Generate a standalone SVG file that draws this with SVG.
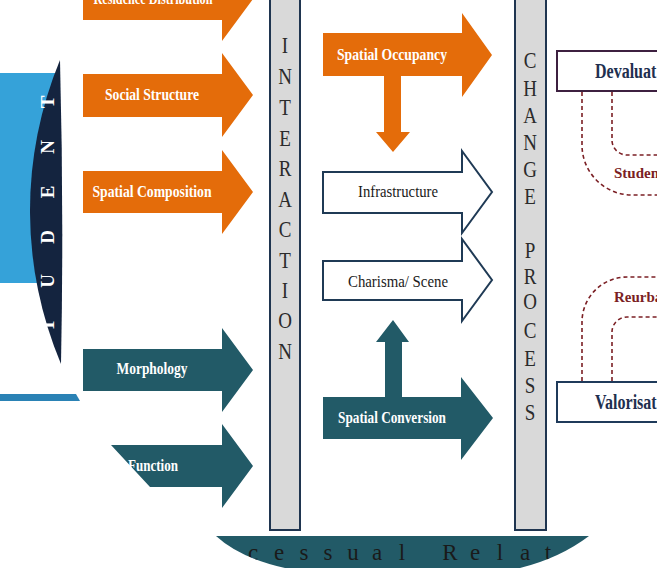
<svg xmlns="http://www.w3.org/2000/svg" width="657" height="568" viewBox="0 0 657 568">
<defs>
<style>
.or{fill:#E46C0A}
.tl{fill:#225A67}
.wa{fill:#fff;stroke:#1F3A55;stroke-width:2}
.bar{fill:#D9D9D9;stroke:#1F3550;stroke-width:2}
.lbl{font-family:"Liberation Serif","Times New Roman",serif;font-weight:bold;font-size:17px;fill:#fff;text-anchor:middle}
.lblk{font-family:"Liberation Serif","Times New Roman",serif;font-size:17px;fill:#1a1a1a;text-anchor:middle}
.vt{font-family:"Liberation Serif","Times New Roman",serif;font-size:19px;fill:#2b2b2b;text-anchor:middle}
.dash{fill:none;stroke:#7B1F24;stroke-width:1.6;stroke-dasharray:4 3}
.red{font-family:"Liberation Serif","Times New Roman",serif;font-weight:bold;font-size:15px;fill:#7B1F24}
.box{font-family:"Liberation Serif","Times New Roman",serif;font-weight:bold;font-size:20px;fill:#1F3050}
</style>
<clipPath id="bannerClip"><path d="M216,536 H589 Q560,558 520,568 H285 Q240,558 216,536 Z"/></clipPath>
</defs>
<rect width="657" height="568" fill="#fff"/>

<g id="student-circle">
<rect x="0" y="73" width="60" height="210" fill="#35A2D9"/>
<path d="M60,60 A394,394 0 0 0 61,364 Q64,212 60,60 Z" fill="#14243F"/>
<text transform="rotate(-90)" font-family="Liberation Serif, serif" font-weight="bold" font-size="19" fill="#fff" text-anchor="middle" y="54" x="-325 -281 -237 -192 -147 -102">TUDENT</text>
<polygon points="0,394 76,394 80,401 0,401" fill="#2A82B5"/>
</g>

<g id="residence-distribution">
<polygon class="or" points="83,-23 222,-23 222,-43 253,-1 222,41 222,20 83,20"/>
<text class="lbl" x="153" y="4" textLength="119" lengthAdjust="spacingAndGlyphs">Residence Distribution</text>
</g>
<g id="social-structure">
<polygon class="or" points="83,74 222,74 222,53 253,95 222,137 222,117 83,117"/>
<text class="lbl" x="152" y="100" textLength="94" lengthAdjust="spacingAndGlyphs">Social Structure</text>
</g>
<g id="spatial-composition">
<polygon class="or" points="83,171 222,171 222,150 253,192 222,234 222,213 83,213"/>
<text class="lbl" x="152" y="197" textLength="119" lengthAdjust="spacingAndGlyphs">Spatial Composition</text>
</g>
<g id="morphology">
<polygon class="tl" points="83,349 222,349 222,328 253,370 222,412 222,391 83,391"/>
<text class="lbl" x="152" y="374" textLength="71" lengthAdjust="spacingAndGlyphs">Morphology</text>
</g>
<g id="function">
<polygon class="tl" points="111,445 222,445 222,424 253,466 222,508 222,487 150,487"/>
<text class="lbl" x="128" y="471" textLength="50" lengthAdjust="spacingAndGlyphs" style="text-anchor:start">Function</text>
</g>

<g id="interaction">
<rect class="bar" x="270" y="-3" width="30" height="533"/>
<g transform="translate(285,0) scale(1,1.25)">
<text class="vt" x="0" y="42.3">I</text>
<text class="vt" x="0" y="67.1">N</text>
<text class="vt" x="0" y="91.9">T</text>
<text class="vt" x="0" y="116.7">E</text>
<text class="vt" x="0" y="140.7">R</text>
<text class="vt" x="0" y="165.5">A</text>
<text class="vt" x="0" y="189.5">C</text>
<text class="vt" x="0" y="214.3">T</text>
<text class="vt" x="0" y="238.3">I</text>
<text class="vt" x="0" y="262.3">O</text>
<text class="vt" x="0" y="287.1">N</text>
</g>
</g>

<g id="change-process">
<rect class="bar" x="515" y="-3" width="31" height="533"/>
<g transform="translate(530,0) scale(1,1.2)">
<text class="vt" x="0" y="56.3">C</text>
<text class="vt" x="0" y="79.6">H</text>
<text class="vt" x="0" y="102.1">A</text>
<text class="vt" x="0" y="124.6">N</text>
<text class="vt" x="0" y="147.9">G</text>
<text class="vt" x="0" y="169.6">E</text>
<text class="vt" x="0" y="215.4">P</text>
<text class="vt" x="0" y="236.3">R</text>
<text class="vt" x="0" y="257.9">O</text>
<text class="vt" x="0" y="281.3">C</text>
<text class="vt" x="0" y="304.6">E</text>
<text class="vt" x="0" y="327.1">S</text>
<text class="vt" x="0" y="350.4">S</text>
</g>
</g>

<g id="spatial-occupancy">
<polygon class="or" points="323,33 462,33 462,13 492,55 462,97 462,76 323,76"/>
<text class="lbl" x="392" y="60" textLength="110" lengthAdjust="spacingAndGlyphs">Spatial Occupancy</text>
</g>
<g id="infrastructure">
<polygon class="wa" points="323,172 462,172 462,151 492,192 462,233 462,213 323,213"/>
<text class="lblk" x="398" y="197" textLength="80" lengthAdjust="spacingAndGlyphs">Infrastructure</text>
</g>
<g id="charisma-scene">
<polygon class="wa" points="323,261 462,261 462,239 492,280 462,321 462,300 323,300"/>
<text class="lblk" x="398" y="287" textLength="100" lengthAdjust="spacingAndGlyphs">Charisma/ Scene</text>
</g>
<g id="spatial-conversion">
<polygon class="tl" points="323,397 461,397 461,377 493,418 461,460 461,439 323,439"/>
<text class="lbl" x="392" y="423" textLength="108" lengthAdjust="spacingAndGlyphs">Spatial Conversion</text>
</g>

<g id="devaluation">
<rect x="557" y="51" width="110" height="40" fill="#fff" stroke="#3D2040" stroke-width="2"/>
<text class="box" transform="translate(595,78) scale(0.8,1)">Devaluat</text>
</g>
<g id="valorisation">
<rect x="557" y="382" width="110" height="40" fill="#fff" stroke="#1F3A5A" stroke-width="2"/>
<text class="box" transform="translate(595,409) scale(0.8,1)">Valorisat</text>
</g>

<g id="connectors">
<polygon class="or" points="384,75 401,75 401,132 410,132 393,152 376,132 384,132"/>
<polygon class="tl" points="393,320 409,342 402,342 402,398 385,398 385,342 376,342"/>
<path class="dash" d="M582,92 V145 A50,50 0 0 0 632,195 H660"/>
<path class="dash" d="M612,92 V140 A15,15 0 0 0 627,155 H660"/>
<text class="red" x="614" y="178">Studen</text>
<path class="dash" d="M582,381 V322 A45,45 0 0 1 627,277 H660"/>
<path class="dash" d="M612,381 V332 A15,15 0 0 1 627,317 H660"/>
<text class="red" x="614" y="302">Reurba</text>
</g>

<g id="processual-relations">
<path d="M216,536 H589 Q560,558 520,568 H285 Q240,558 216,536 Z" fill="#225A67"/>
<text clip-path="url(#bannerClip)" font-family="Liberation Serif, serif" font-size="23" fill="#1a1a1a" text-anchor="middle" y="560" x="253 279 304 328 353 377 402 450 475 500 525 548">cessualRelat</text>
</g>
</svg>
